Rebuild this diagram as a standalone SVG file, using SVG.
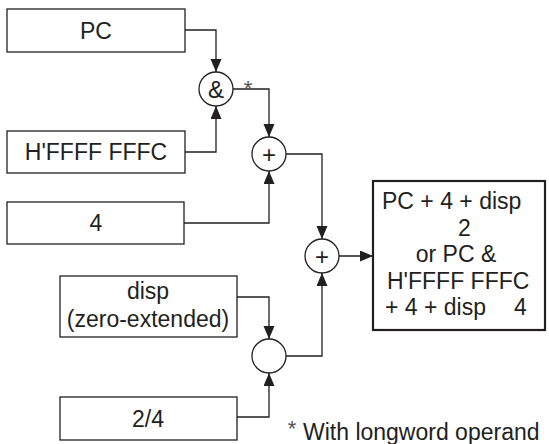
<svg xmlns="http://www.w3.org/2000/svg" width="549" height="444" viewBox="0 0 549 444">
<style>
.box{fill:#fff;stroke:#231f20;stroke-width:1.3}
.res{fill:#fff;stroke:#231f20;stroke-width:2.2}
.op{fill:#fff;stroke:#231f20;stroke-width:1.3}
.t{font-family:"Liberation Sans",Arial,sans-serif;font-size:23px;fill:#231f20}
.c{text-anchor:middle}
.ast{font-family:"Liberation Sans",Arial,sans-serif;font-size:22px;fill:#555}
.ln{fill:none;stroke:#231f20;stroke-width:1.3}
</style>
<defs>
<marker id="ah" markerUnits="userSpaceOnUse" markerWidth="14" markerHeight="12" refX="13" refY="5.5" orient="auto">
<path d="M0,0 L13,5.5 L0,11 Z" fill="#231f20"/>
</marker>
</defs>
<rect width="549" height="444" fill="#fff"/>
<g id="connectors">
<path class="ln" d="M185,30 H216 V72" marker-end="url(#ah)"/>
<path class="ln" d="M185,152 H216 V106" marker-end="url(#ah)"/>
<path class="ln" d="M233,89 H269 V137" marker-end="url(#ah)"/>
<path class="ln" d="M184,223 H269 V171" marker-end="url(#ah)"/>
<path class="ln" d="M286,154 H322 V239" marker-end="url(#ah)"/>
<path class="ln" d="M286,356 H322 V273" marker-end="url(#ah)"/>
<path class="ln" d="M339,256 H373" marker-end="url(#ah)"/>
<path class="ln" d="M237,297 H269 V339" marker-end="url(#ah)"/>
<path class="ln" d="M237,417 H269 V373" marker-end="url(#ah)"/>
<text class="ast" x="248" y="96" text-anchor="middle">*</text>
</g>
<g id="pc">
<rect class="box" x="7" y="9" width="178" height="43"/>
<text class="t c" x="96" y="39">PC</text>
</g>
<g id="mask">
<rect class="box" x="7" y="131" width="178" height="42"/>
<text class="t c" x="96" y="160">H'FFFF FFFC</text>
</g>
<g id="four">
<rect class="box" x="7" y="202" width="177" height="42"/>
<text class="t c" x="96" y="231">4</text>
</g>
<g id="disp">
<rect class="box" x="60" y="276" width="177" height="61"/>
<text class="t c" x="148" y="299">disp</text>
<text class="t c" x="148" y="327">(zero-extended)</text>
</g>
<g id="scale">
<rect class="box" x="60" y="397" width="177" height="43"/>
<text class="t c" x="148" y="427">2/4</text>
</g>
<g id="and">
<circle class="op" cx="216" cy="89" r="17"/>
<text class="t c" x="216" y="97.5" style="font-size:24px">&amp;</text>
</g>
<g id="add1">
<circle class="op" cx="269" cy="154" r="17"/>
<text class="t c" x="269" y="162.5" style="font-size:24px">+</text>
</g>
<g id="add2">
<circle class="op" cx="322" cy="256" r="17"/>
<text class="t c" x="322" y="264.5" style="font-size:24px">+</text>
</g>
<g id="mul">
<circle class="op" cx="269" cy="356" r="17"/>
</g>
<g id="result">
<rect class="res" x="373" y="181" width="172" height="149"/>
<text class="t" x="382" y="209">PC + 4 + disp</text>
<text class="t" x="458" y="235.5">2</text>
<text class="t c" x="456" y="262">or PC &amp;</text>
<text class="t" x="387" y="289">H'FFFF FFFC</text>
<text class="t" x="385" y="315">+ 4 + disp<tspan x="514">4</tspan></text>
</g>
<g id="footnote">
<text class="ast" x="292" y="436" text-anchor="middle">*</text>
<text class="t" x="303" y="439.5">With longword operand</text>
</g>
</svg>
